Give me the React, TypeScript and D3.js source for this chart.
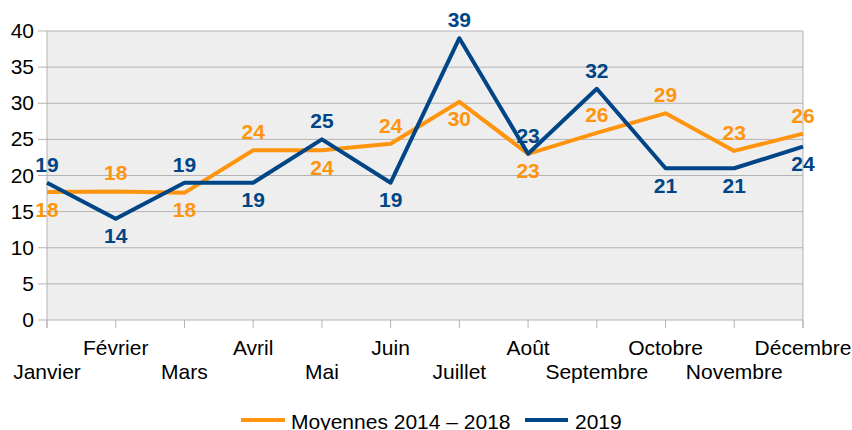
import React from "react";
import * as d3 from "d3";

const months = ["Janvier", "Février", "Mars", "Avril", "Mai", "Juin", "Juillet", "Août", "Septembre", "Octobre", "Novembre", "Décembre"];
const moyennes = [17.7, 17.8, 17.6, 23.5, 23.5, 24.4, 30.2, 23.0, 25.9, 28.6, 23.4, 25.8];
const annee2019 = [19, 14, 19, 19, 25, 19, 39, 23, 32, 21, 21, 24];
// label placement: 1 = above, -1 = below
const moyPos = [-1, 1, -1, 1, -1, 1, -1, -1, 1, 1, 1, 1];
const y2019Pos = [1, -1, 1, -1, 1, -1, 1, 1, 1, -1, -1, -1];
const yTicks = [0, 5, 10, 15, 20, 25, 30, 35, 40];
const seriesNames = ["Moyennes 2014 – 2018", "2019"];

const W = 852;
const H = 430;
const left = 47;
const right = 803;
const top = 31;
const bottom = 320;
const ORANGE = "#ff950e";
const BLUE = "#004586";
const FONT = "'Liberation Sans', Arial, sans-serif";
const FS = 21;

export default function App() {
  const x = d3.scalePoint<string>().domain(months).range([left, right]);
  const y = d3.scaleLinear().domain([0, 40]).range([bottom, top]);
  const line = d3
    .line<number>()
    .x((_, i) => x(months[i]) as number)
    .y((d) => y(d));

  const series = [
    { name: seriesNames[0], values: moyennes, pos: moyPos, color: ORANGE },
    { name: seriesNames[1], values: annee2019, pos: y2019Pos, color: BLUE },
  ];

  return (
    <svg width={W} height={H} style={{ position: "absolute", left: 0, top: 0, display: "block" }} fontFamily={FONT}>
      <rect x={left} y={top} width={right - left} height={bottom - top} fill="#eeeeee" />
      {yTicks.map((t) => (
        <g key={t}>
          <line x1={left - 9} x2={right} y1={y(t)} y2={y(t)} stroke="#b3b3b3" strokeWidth={1} />
          <text x={34} y={y(t) + 7} textAnchor="end" fontSize={FS} fill="#000">
            {t}
          </text>
        </g>
      ))}
      <line x1={left} x2={left} y1={top} y2={bottom + 8} stroke="#b3b3b3" />
      <line x1={right} x2={right} y1={top} y2={bottom + 8} stroke="#b3b3b3" />
      {months.map((m, i) => (
        <g key={m}>
          <line x1={x(m)} x2={x(m)} y1={bottom} y2={bottom + 8} stroke="#b3b3b3" />
          <text x={x(m)} y={i % 2 === 0 ? 379 : 355} textAnchor="middle" fontSize={FS} fill="#000">
            {m}
          </text>
        </g>
      ))}
      {series.map((s) => (
        <path key={s.name} d={line(s.values) || ""} fill="none" stroke={s.color} strokeWidth={4} strokeLinejoin="round" />
      ))}
      {series.map((s) =>
        s.values.map((v, i) => (
          <text
            key={s.name + i}
            x={x(months[i])}
            y={s.pos[i] > 0 ? y(v) - 11 : y(v) + 24.5}
            textAnchor="middle"
            fontSize={FS}
            fontWeight="bold"
            fill={s.color}
          >
            {Math.round(v)}
          </text>
        ))
      )}
      <g>
        <line x1={241} x2={285} y1={420} y2={420} stroke={ORANGE} strokeWidth={4} />
        <text x={291} y={428.5} fontSize={FS} fill="#000">
          {seriesNames[0]}
        </text>
        <line x1={525} x2={568} y1={420} y2={420} stroke={BLUE} strokeWidth={4} />
        <text x={575} y={428.5} fontSize={FS} fill="#000">
          {seriesNames[1]}
        </text>
      </g>
    </svg>
  );
}
